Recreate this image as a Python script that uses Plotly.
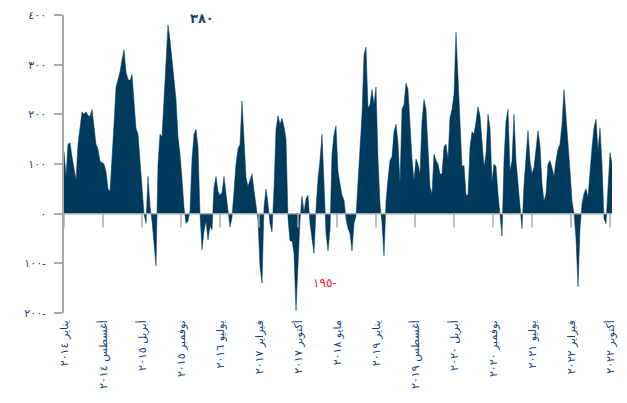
import numpy as np
import plotly.graph_objects as go

# weekly-ish series (one value every ~2px)
values = [
    125, 75, 140, 143, 115, 95, 68, 140, 175, 205, 200, 205, 198, 195, 210, 180,
    140, 130, 105, 103, 100, 85, 50, 45, 105, 180, 255, 270, 285, 310, 330, 285,
    270, 268, 280, 225, 172, 160, 107, 65, 0, -20, 75, 15, -15, -60, -105, 100,
    160, 155, 225, 300, 380, 350,
    310, 265, 230, 155, 120, 70, 13, -20, -15, 5, 110, 160, 170, 133, 0, -73,
    -35, -15, -53, -25, -33, 53, 75, 45, 37, 42, 75, 40, 0, -27, -8, 45,
    100, 130, 140, 227, 150, 73, 55, 68, 80, 47, 20, -13, -107, -140, 13, 50,
    20, -20, -37, 50, 170, 197, 180,
    192, 175, 150, -10, -55, -55, -80, -195, -90, -13, 35, 3, 30, 37, -20, -55,
    -80, 10, 70, 107, 160, 60, -40, -75, -33, 120, 160, 177, 85, 60, 37, 27,
    -10, -30, -40, -75, -20, -5, 60, 120, 200, 320, 335, 213, 220, 250, 220, 255,
    110, 20, -20, -85, 25, 70, 107,
    115, 165, 180, 143, 60, 210, 220, 263, 250, 173, 110, 67, 110, 100, 80, 187,
    230, 210, 135, 53, 40, 120, 107, 100, 80, 80, 135, 140, 110, 193, 210, 240,
    365, 280, 187, 95, 97, 38, 37, 133, 165, 160, 185, 215, 197, 150, 95, 120,
    200, 173, 65, 100, 95, 40, 0,
    -45, 107, 185, 210, 85, 107, 200, 107, 55, 13, -30, 58, 107, 167, 107, 80,
    93, 125, 167, 137, 60, 25, 40, 100, 107, 92, 75, 107, 130, 140, 180, 250,
    200, 150, 87, 25, 0, -50, -147, -30, 20, 40, 50, 33, 90, 133, 173, 190,
    127, 173, 100, -10, -20, 53, 123, 100,
]

tick_labels = [
    "يناير ٢٠١٤", "أغسطس ٢٠١٤", "أبريل ٢٠١٥", "نوفمبر ٢٠١٥", "يوليو ٢٠١٦",
    "فبراير ٢٠١٧", "أكتوبر ٢٠١٧", "مايو ٢٠١٨", "يناير ٢٠١٩", "أغسطس ٢٠١٩",
    "أبريل ٢٠٢٠", "نوفمبر ٢٠٢٠", "يوليو ٢٠٢١", "فبراير ٢٠٢٢", "أكتوبر ٢٠٢٢",
]

y_ticks = [400, 300, 200, 100, 0, -100, -200]
y_tick_text = ["٤٠٠", "٣٠٠", "٢٠٠", "١٠٠", "٠", "\u200f-١٠٠", "\u200f-٢٠٠"]

peak_label = "٣٨٠"
trough_label = "\u200f-١٩٥"

NAVY = "#003a5c"
TEXT = "#1b4472"
GRAY = "#aaaaaa"
RED = "#e8202a"
FONT = "DejaVu Sans"
TICK_STEP = 19.5

idx = np.arange(len(values))
tick_pos = np.arange(len(tick_labels)) * TICK_STEP

# short tick marks hanging below the zero line
tx, ty = [], []
for p in tick_pos:
    tx += [p, p, None]
    ty += [0, -28, None]

fig = go.Figure()
fig.add_trace(go.Scatter(x=idx, y=values, mode="lines", fill="tozeroy",
                         fillcolor=NAVY, line=dict(color=NAVY, width=0.5),
                         hoverinfo="skip"))
fig.add_trace(go.Scatter(x=tx, y=ty, mode="lines",
                         line=dict(color=GRAY, width=1.5), hoverinfo="skip"))

fig.add_shape(type="line", xref="paper", yref="y", x0=0, x1=1, y0=0, y1=0,
              line=dict(color=GRAY, width=1.5), layer="above")

peak_i = int(np.argmax(values))
low_i = int(np.argmin(values))
fig.add_annotation(x=peak_i + 17, y=values[peak_i] + 12, text="<b>%s</b>" % peak_label,
                   showarrow=False, font=dict(family=FONT, size=13, color=TEXT))
fig.add_annotation(x=low_i + 14.5, y=values[low_i] + 55, text=trough_label,
                   showarrow=False, font=dict(family=FONT, size=12, color=RED))

# the page body adds an 8px margin, so the figure is sized/offset to compensate
fig.update_layout(
    width=611, height=395,
    margin=dict(l=56, r=7, t=7, b=90),
    paper_bgcolor="white", plot_bgcolor="white",
    showlegend=False,
    font=dict(family=FONT, size=11, color=TEXT),
    xaxis=dict(range=[0, len(values) - 1], tickvals=tick_pos, ticktext=tick_labels,
               tickangle=-90, showgrid=False, zeroline=False, showline=False,
               ticks="", ticklabelstandoff=4, automargin=False,
               tickfont=dict(size=11, color=TEXT)),
    yaxis=dict(range=[-200, 400], tickvals=y_ticks, ticktext=y_tick_text,
               showgrid=False, zeroline=False, showline=True, linecolor=GRAY,
               linewidth=1.5, ticks="outside", ticklen=8, tickcolor=GRAY,
               tickwidth=1.5, ticklabelstandoff=6, automargin=False,
               tickfont=dict(size=11, color=TEXT)),
)

fig.write_html("out.html")
